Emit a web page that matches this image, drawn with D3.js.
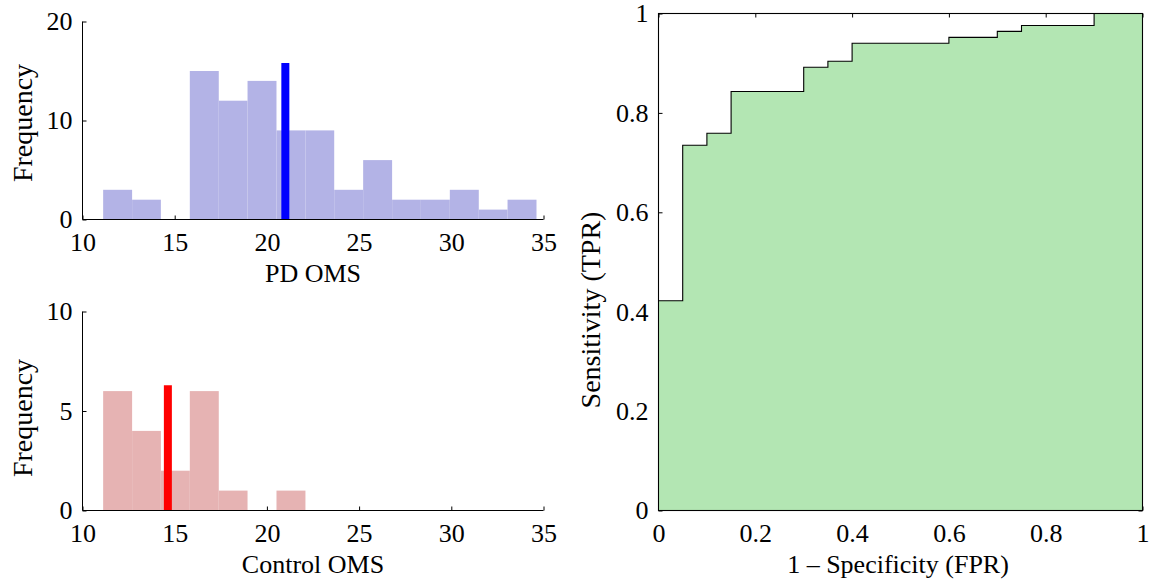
<!DOCTYPE html>
<html>
<head>
<meta charset="utf-8">
<script src="https://cdn.jsdelivr.net/npm/d3@7"></script>
<style>
body { margin: 0; background: #fff; }
text { font-family: "Liberation Serif", "Times New Roman", serif; fill: #000; }
</style>
</head>
<body>
<svg id="chart" width="1155" height="582"></svg>
<script>
// histogram bins (shared by both groups)
var binEdges = [11.12, 12.69, 14.25, 15.82, 17.39, 18.95, 20.52, 22.09, 23.65, 25.22, 26.79, 28.35, 29.92, 31.49, 33.05, 34.62];
var pdCounts = [3, 2, 0, 15, 12, 14, 9, 9, 3, 6, 2, 2, 3, 1, 2];
var controlCounts = [6, 4, 2, 6, 1, 0, 1, 0, 0, 0, 0, 0, 0, 0, 0];

// thick marker lines (mean value, line height)
var pdMarker = [21.0, 15.8];
var controlMarker = [14.63, 6.3];

var histXTicks = [10, 15, 20, 25, 30, 35];
var pdYTicks = [0, 10, 20];
var controlYTicks = [0, 5, 10];

// ROC curve (stairs)
var rocFpr = [0, 0.05, 0.1, 0.15, 0.3, 0.35, 0.4, 0.6, 0.7, 0.75, 0.9, 1];
var rocTpr = [0.422, 0.735, 0.759, 0.843, 0.892, 0.904, 0.940, 0.952, 0.964, 0.976, 1, 1];
var rocTicks = [0, 0.2, 0.4, 0.6, 0.8, 1];

var svg = d3.select("#chart");
var tickFont = 26;

function drawHist(opt) {
    var g = svg.append("g");
    var x = d3.scaleLinear().domain([10, 35]).range([82.5, 543.5]);
    var y = d3.scaleLinear().domain([0, opt.yMax]).range([opt.bottom, opt.top]);

    var xAxis = d3.axisBottom(x).tickValues(histXTicks).tickSizeInner(-4).tickSizeOuter(0).tickPadding(13);
    var yAxis = d3.axisLeft(y).tickValues(opt.yTicks).tickSizeInner(-4).tickSizeOuter(0).tickPadding(10);

    var gx = g.append("g").attr("transform", "translate(0," + opt.bottom + ")").call(xAxis);
    var gy = g.append("g").attr("transform", "translate(82.5,0)").call(yAxis);
    [gx, gy].forEach(function(a) {
        a.select(".domain").remove();
        a.selectAll("text").style("font-size", tickFont + "px").style("font-family", "Liberation Serif");
        a.selectAll("line").attr("stroke", "#000");
    });

    //bars
    var bins = opt.counts.map(function(c, i) {
        return {x0: binEdges[i], x1: binEdges[i + 1], n: c};
    }).filter(function(b) { return b.n > 0; });

    g.selectAll("rect.bar").data(bins).enter().append("rect")
        .attr("class", "bar")
        .attr("x", function(d) { return x(d.x0); })
        .attr("width", function(d) { return x(d.x1) - x(d.x0); })
        .attr("y", function(d) { return y(d.n); })
        .attr("height", function(d) { return y(0) - y(d.n); })
        .attr("fill", opt.barColor);

    //marker line
    g.append("line")
        .attr("x1", x(opt.marker[0])).attr("x2", x(opt.marker[0]))
        .attr("y1", y(0)).attr("y2", y(opt.marker[1]))
        .attr("stroke", opt.lineColor)
        .attr("stroke-width", 8);

    //axis lines on top
    g.append("line").attr("x1", x.range()[0]).attr("x2", x.range()[1])
        .attr("y1", opt.bottom).attr("y2", opt.bottom).attr("stroke", "#000");
    g.append("line").attr("x1", 82.5).attr("x2", 82.5)
        .attr("y1", opt.top).attr("y2", opt.bottom).attr("stroke", "#000");

    g.append("text")
        .attr("x", 313).attr("y", opt.bottom + 62)
        .attr("text-anchor", "middle")
        .style("font-size", tickFont + "px")
        .text(opt.xLabel);

    g.append("text")
        .attr("transform", "translate(32," + opt.labelY + ") rotate(-90)")
        .attr("text-anchor", "middle")
        .style("font-size", "28px")
        .text("Frequency");
}

drawHist({
    top: 21.5, bottom: 219.5, yMax: 20, yTicks: pdYTicks,
    counts: pdCounts, marker: pdMarker,
    barColor: "rgb(179,179,230)", lineColor: "#0000ff",
    xLabel: "PD OMS", labelY: 123
});

drawHist({
    top: 311.5, bottom: 510.5, yMax: 10, yTicks: controlYTicks,
    counts: controlCounts, marker: controlMarker,
    barColor: "rgb(230,179,179)", lineColor: "#ff0000",
    xLabel: "Control OMS", labelY: 418
});

// ROC panel
function drawRoc() {
    var g = svg.append("g");
    var x = d3.scaleLinear().domain([0, 1]).range([658.5, 1142.5]);
    var y = d3.scaleLinear().domain([0, 1]).range([510.5, 13.5]);
    var fmt = function(d) { return String(d); };

    var gb = g.append("g").attr("transform", "translate(0,510.5)")
        .call(d3.axisBottom(x).tickValues(rocTicks).tickFormat(fmt).tickSizeInner(-4).tickSizeOuter(0).tickPadding(13));
    var gl = g.append("g").attr("transform", "translate(658.5,0)")
        .call(d3.axisLeft(y).tickValues(rocTicks).tickFormat(fmt).tickSizeInner(-4).tickSizeOuter(0).tickPadding(10));
    var gt = g.append("g").attr("transform", "translate(0,13.5)")
        .call(d3.axisTop(x).tickValues(rocTicks).tickFormat("").tickSizeInner(-4).tickSizeOuter(0));
    var gr = g.append("g").attr("transform", "translate(1142.5,0)")
        .call(d3.axisRight(y).tickValues(rocTicks).tickFormat("").tickSizeInner(-4).tickSizeOuter(0));
    [gb, gl, gt, gr].forEach(function(a) {
        a.select(".domain").remove();
        a.selectAll("text").style("font-size", tickFont + "px").style("font-family", "Liberation Serif");
        a.selectAll("line").attr("stroke", "#000");
    });

    var pts = rocFpr.map(function(f, i) { return [f, rocTpr[i]]; });

    var area = d3.area().curve(d3.curveStepAfter)
        .x(function(d) { return x(d[0]); })
        .y0(y(0))
        .y1(function(d) { return y(d[1]); });
    g.append("path").datum(pts).attr("d", area).attr("fill", "rgb(179,230,179)");

    var line = d3.line().curve(d3.curveStepAfter)
        .x(function(d) { return x(d[0]); })
        .y(function(d) { return y(d[1]); });
    g.append("path").datum(pts).attr("d", line)
        .attr("fill", "none").attr("stroke", "#000").attr("stroke-width", 1.1);

    g.append("rect")
        .attr("x", x(0)).attr("y", y(1))
        .attr("width", x(1) - x(0)).attr("height", y(0) - y(1))
        .attr("fill", "none").attr("stroke", "#000").attr("stroke-width", 1.1);

    g.append("text")
        .attr("x", 898).attr("y", 573)
        .attr("text-anchor", "middle")
        .style("font-size", tickFont + "px")
        .text("1 \u2013 Specificity (FPR)");

    g.append("text")
        .attr("transform", "translate(600,310) rotate(-90)")
        .attr("text-anchor", "middle")
        .style("font-size", "28px")
        .text("Sensitivity (TPR)");
}

drawRoc();
</script>
</body>
</html>
